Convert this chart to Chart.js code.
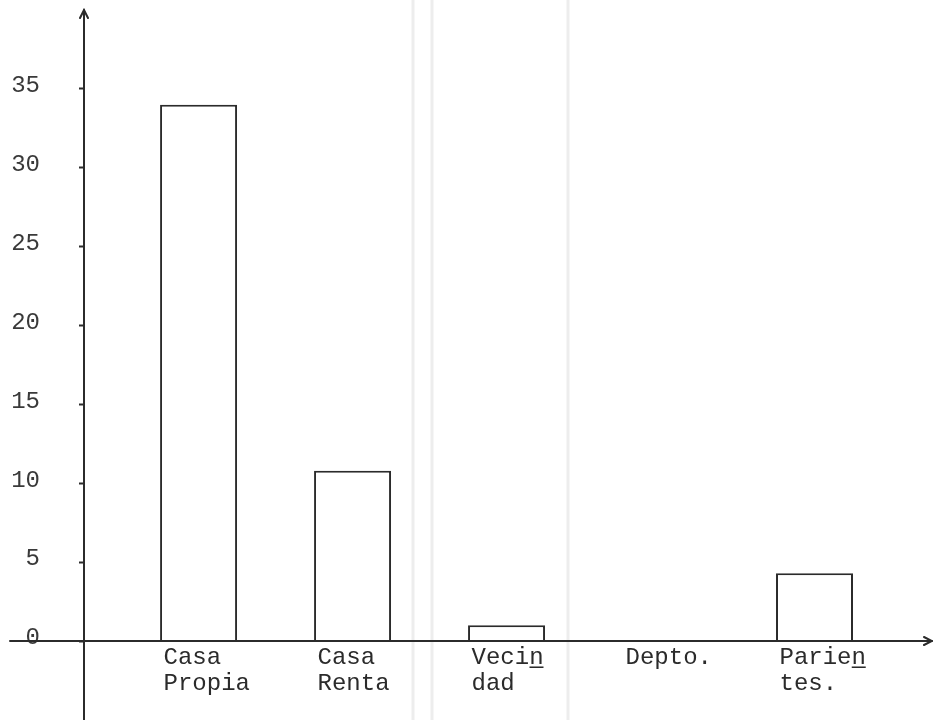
<!DOCTYPE html>
<html>
<head>
<meta charset="utf-8">
<script src="https://cdn.jsdelivr.net/npm/chart.js@4"></script>
<style>
  html, body { margin: 0; padding: 0; background: #fff; }
  canvas { display: block; }
</style>
</head>
<body>
<canvas id="myChart" width="933" height="720"></canvas>
<script>
// ---------------- data ----------------
var categories = [["Casa", "Propia"], ["Casa", "Renta"], ["Vecin\u0332", "dad"], "Depto.", ["Parien\u0332", "tes."]];
var positions = [1, 2, 3, 4, 5];
var values = [34, 10.8, 1, 0, 4.3];
var yTicks = [0, 5, 10, 15, 20, 25, 30, 35];

var ink = "#2b2b2b";
var typewriter = "'Liberation Mono', 'DejaVu Sans Mono', monospace";

// paper, fold lines and the hand drawn axes with arrows
var paperAndAxes = {
    id: "paperAndAxes",
    beforeDraw: function (chart) {
        var c = chart.ctx;
        c.save();
        c.fillStyle = "#fff";
        c.fillRect(0, 0, chart.width, chart.height);
        c.strokeStyle = "#ededed";
        c.lineWidth = 3;
        [413, 432, 568].forEach(function (x) {
            c.beginPath();
            c.moveTo(x, 0);
            c.lineTo(x, chart.height);
            c.stroke();
        });
        c.restore();
    },
    afterDraw: function (chart) {
        var c = chart.ctx;
        var xs = chart.scales.x, ys = chart.scales.y;
        var x0 = xs.left, y0 = ys.getPixelForValue(0);
        c.save();
        c.strokeStyle = ink;
        c.lineWidth = 2;
        c.lineCap = "round";
        c.beginPath();
        c.moveTo(x0, chart.height);
        c.lineTo(x0, ys.top);
        c.moveTo(10, y0);
        c.lineTo(chart.width - 1, y0);
        c.stroke();
        c.beginPath();
        c.moveTo(x0 - 4, ys.top + 8);
        c.lineTo(x0, ys.top);
        c.lineTo(x0 + 4, ys.top + 8);
        c.moveTo(chart.width - 9, y0 - 4);
        c.lineTo(chart.width - 1, y0);
        c.lineTo(chart.width - 9, y0 + 4);
        c.stroke();
        c.restore();
    }
};

var ctx = document.getElementById("myChart");

new Chart(ctx, {
    type: "bar",
    data: {
        datasets: [
            {
                data: positions.map(function (p, i) { return { x: p, y: values[i] }; }),
                backgroundColor: "#fff",
                borderColor: ink,
                borderWidth: 2,
                borderSkipped: "bottom",
                barPercentage: 0.5,
                categoryPercentage: 1.0
            }
        ]
    },
    options: {
        responsive: false,
        animation: false,
        layout: {
            padding: { left: 0, right: 3, top: 10, bottom: 0 }
        },
        plugins: {
            legend: { display: false },
            tooltip: { enabled: false }
        },
        scales: {
            x: {
                type: "linear",
                offset: false,
                min: 0.256,
                max: 5.75,
                afterBuildTicks: function (s) {
                    s.ticks = positions.map(function (v) { return { value: v }; });
                },
                afterFit: function (s) {
                    s.height = 79;
                    s.paddingLeft = 0;
                    s.paddingRight = 0;
                },
                grid: { display: false },
                border: { display: false },
                ticks: {
                    autoSkip: false,
                    maxRotation: 0,
                    align: "start",
                    labelOffset: -35,
                    padding: -5,
                    color: ink,
                    font: { family: typewriter, size: 24, lineHeight: 1.1 },
                    callback: function (v) { return categories[positions.indexOf(v)]; }
                }
            },
            y: {
                min: 0,
                max: 40,
                afterBuildTicks: function (s) {
                    s.ticks = yTicks.map(function (v) { return { value: v }; });
                },
                afterFit: function (s) {
                    s.width = 84;
                    s.paddingTop = 0;
                    s.paddingBottom = 0;
                },
                grid: {
                    display: true,
                    drawOnChartArea: false,
                    tickLength: 5,
                    tickWidth: 2,
                    tickColor: ink
                },
                border: { display: false },
                ticks: {
                    padding: 39,
                    labelOffset: -3,
                    color: "#3a3a3a",
                    font: { family: typewriter, size: 24 }
                }
            }
        }
    },
    plugins: [paperAndAxes]
});
</script>
</body>
</html>
